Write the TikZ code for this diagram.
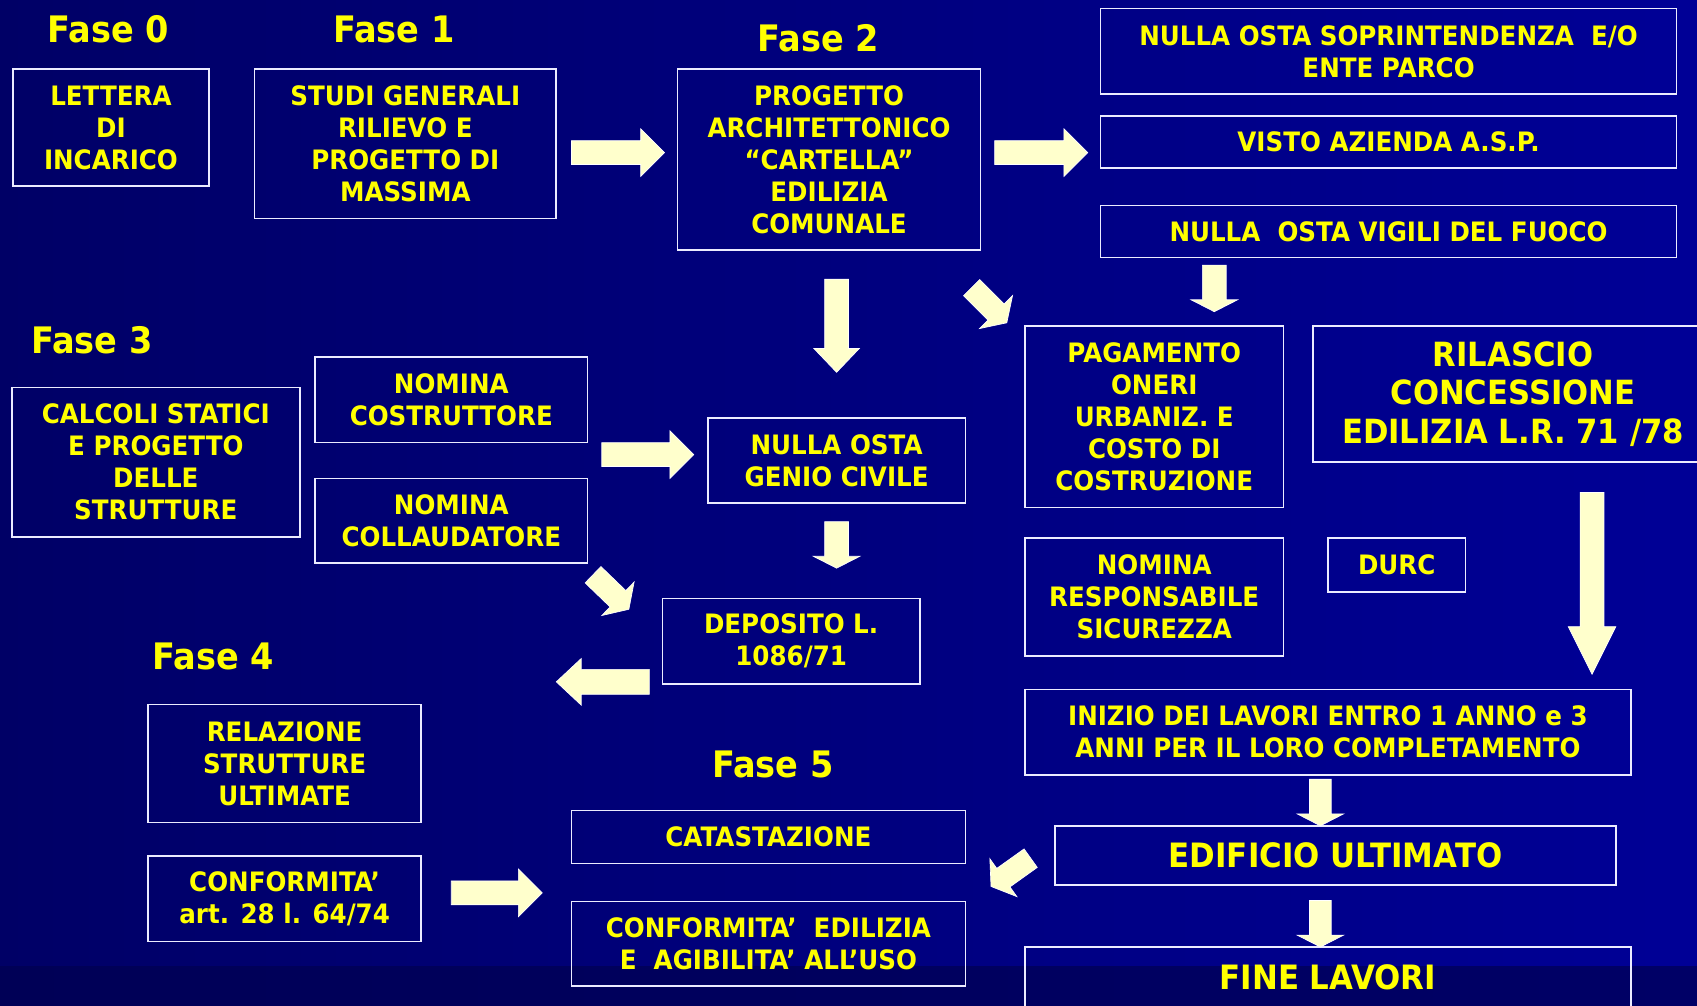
\documentclass[tikz,border=0pt]{standalone}
\usepackage{fontspec}
\setmainfont{DejaVu Sans}[FakeStretch=0.92]
\definecolor{bgleft}{RGB}{0,0,102}
\definecolor{bgright}{RGB}{0,0,150}
\definecolor{stripleft}{RGB}{0,0,86}
\definecolor{stripright}{RGB}{0,0,102}
\definecolor{txtyellow}{RGB}{255,255,0}
\definecolor{arrowfill}{RGB}{255,255,204}
\definecolor{boxline}{RGB}{235,235,255}
\newcommand\boxfont{\bfseries\fontsize{24.7}{29.5}\selectfont}
\newcommand\titlefont{\bfseries\fontsize{33.7}{38}\selectfont}
\newcommand\bigfont{\bfseries\fontsize{30.8}{35.5}\selectfont}
\newcommand\midfont{\bfseries\fontsize{31}{34}\selectfont}
% block arrow: centre x, centre y, angle, length, head length, shaft half width, head half width
\newcommand{\blockarrow}[7]{%
  \path[arrowshape, shift={(#1,#2)}, rotate=#3]
   ({-#4/2},{-#6}) -- ({#4/2-#5},{-#6}) -- ({#4/2-#5},{-#7}) -- ({#4/2},0)
   -- ({#4/2-#5},{#7}) -- ({#4/2-#5},{#6}) -- ({-#4/2},{#6}) -- cycle;}
\begin{document}
\begin{tikzpicture}[x=1pt,y=-1pt,
  box/.style 2 args={draw=boxline, line width=1.5pt, text=txtyellow, font=\boxfont,
     align=center, inner sep=0pt, minimum width=#1, minimum height=#2},
  phase/.style={text=txtyellow, font=\titlefont, inner sep=0pt},
  arrowshape/.style={fill=arrowfill, draw=white, line width=0.6pt, line join=miter}]
\useasboundingbox (0,0) rectangle (1568,929);
% background
\shade[left color=bgleft, right color=bgright] (0,0) rectangle (1568,893);
\shade[left color=stripleft, right color=stripright] (0,893) rectangle (1568,929);

% phase titles
\node[phase] (f0) at (100,27) {Fase 0};
\node[phase] (f1) at (364,27) {Fase 1};
\node[phase] (f2) at (756,35) {Fase 2};
\node[phase] (f3) at (85,314) {Fase 3};
\node[phase] (f4) at (197,607) {Fase 4};
\node[phase] (f5) at (714,706) {Fase 5};

% boxes
\node[box={181pt}{108pt}] (b0) at (102.5,118) {LETTERA\\DI\\INCARICO};
\node[box={279pt}{138pt}] (b1) at (374.5,133) {STUDI GENERALI\\RILIEVO E\\PROGETTO DI\\MASSIMA};
\node[box={280pt}{167pt}] (b2) at (766,147.5) {PROGETTO\\ARCHITETTONICO\\“CARTELLA”\\EDILIZIA\\COMUNALE};
\node[box={532pt}{79pt}] (sopr) at (1283,47.5) {NULLA OSTA SOPRINTENDENZA~~E/O\\ENTE PARCO};
\node[box={532pt}{48pt}] (asp) at (1283,131) {VISTO AZIENDA A.S.P.};
\node[box={532pt}{48pt}] (vvf) at (1283,214) {NULLA~~OSTA VIGILI DEL FUOCO};
\node[box={239pt}{168pt}] (pag) at (1066.5,385) {PAGAMENTO\\ONERI\\URBANIZ. E\\COSTO DI\\COSTRUZIONE};
\node[box={370pt}{126pt}, font=\bigfont] (ril) at (1398,364) {RILASCIO\\CONCESSIONE\\EDILIZIA L.R. 71 /78};
\node[box={239pt}{109pt}] (nrs) at (1066.5,551.5) {NOMINA\\RESPONSABILE\\SICUREZZA};
\node[box={127pt}{50pt}] (durc) at (1290.5,522) {DURC};
\node[box={560pt}{79pt}] (inizio) at (1227,676.5) {INIZIO DEI LAVORI ENTRO 1 ANNO e 3\\ANNI PER IL LORO COMPLETAMENTO};
\node[box={518pt}{55pt}, font=\midfont] (edif) at (1234,790.5) {EDIFICIO ULTIMATO};
\node[box={560pt}{56pt}, font=\midfont] (fine) at (1227,903) {FINE LAVORI};
\node[box={266pt}{138pt}] (calc) at (144,427) {CALCOLI STATICI\\E PROGETTO\\DELLE\\STRUTTURE};
\node[box={252pt}{79pt}] (ncost) at (417,369.5) {NOMINA\\COSTRUTTORE};
\node[box={252pt}{78pt}] (ncoll) at (417,481) {NOMINA\\COLLAUDATORE};
\node[box={238pt}{79pt}] (genio) at (773,425.5) {NULLA OSTA\\GENIO CIVILE};
\node[box={238pt}{79pt}] (dep) at (731,592.5) {DEPOSITO L.\\1086/71};
\node[box={252pt}{109pt}] (rel) at (263,705.5) {RELAZIONE\\STRUTTURE\\ULTIMATE};
\node[box={252pt}{79pt}] (conf) at (263,830.5) {CONFORMITA’\\art. 28 l. 64/74};
\node[box={364pt}{49pt}] (cat) at (710,773.5) {CATASTAZIONE};
\node[box={364pt}{78pt}] (confed) at (710,872) {CONFORMITA’~~EDILIZIA\\E~~AGIBILITA’ ALL’USO};

% block arrows
\blockarrow{571}{141}{0}{86}{22}{11}{22}
\blockarrow{962}{141}{0}{86}{22}{11}{22}
\blockarrow{773}{301}{-90}{86}{22}{11}{21}
\blockarrow{914}{282}{-45}{46}{14}{10.5}{21.5}
\blockarrow{1122}{266.5}{-90}{43}{11}{11}{21.5}
\blockarrow{598.5}{420}{0}{85}{22}{11}{22}
\blockarrow{773}{503.5}{-90}{43}{11}{11}{21.5}
\blockarrow{564.5}{547}{-44}{46}{14}{10.5}{21.5}
\blockarrow{557}{630}{180}{86}{23}{11.5}{21.5}
\blockarrow{1471}{539}{-90}{168}{44}{11}{22}
\blockarrow{1220}{741.5}{-90}{43}{11}{10}{21.5}
\blockarrow{934}{806}{-144.5}{45}{14}{10.5}{21.5}
\blockarrow{1220}{853.5}{-90}{43}{11}{10}{21.5}
\blockarrow{459}{825}{0}{84}{22}{11}{22}
\end{tikzpicture}
\end{document}
